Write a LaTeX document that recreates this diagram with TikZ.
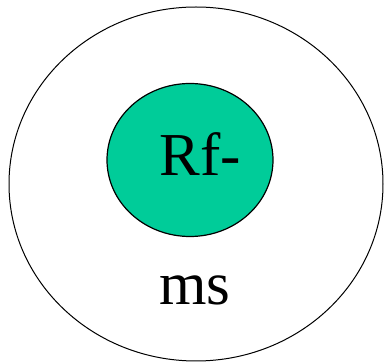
\documentclass[tikz,border=0pt]{standalone}
\usepackage{fontspec}
\setmainfont{Liberation Serif}
\usetikzlibrary{shapes.geometric}
\definecolor{cellgreen}{RGB}{0,204,153}
\tikzset{
  shell/.style={draw, ellipse, inner sep=0pt, line width=1pt},
  bigtext/.style={font=\fontsize{61}{61}\selectfont, inner sep=0pt, anchor=base}
}
\begin{document}
\begin{tikzpicture}[x=1pt, y=1pt]
\useasboundingbox (0,0) rectangle (386,364);

% Outer ring
\node[shell, minimum width=374pt, minimum height=354pt] (outer) at (196,180) {};

% Inner green core
\node[shell, fill=cellgreen, line width=1.2pt, minimum width=166pt, minimum height=153pt] (core) at (190,204) {};

% Labels
\node[bigtext] (corelabel) at (200,188) {Rf-};
\node[bigtext] (outerlabel) at (195,59) {ms};

\end{tikzpicture}
\end{document}
